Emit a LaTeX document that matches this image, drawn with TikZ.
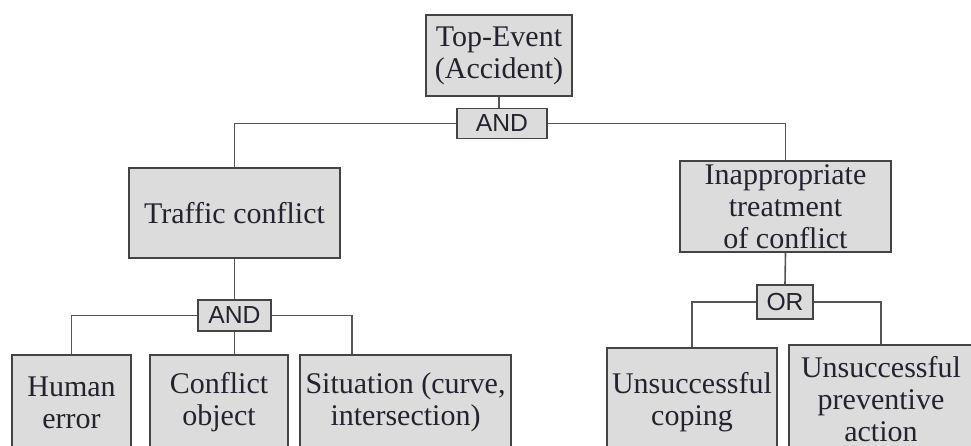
\documentclass[tikz,border=0pt]{standalone}
\usepackage{fontspec}
\setmainfont{Liberation Serif}
\newfontfamily\gatefont{Liberation Sans}
\usetikzlibrary{calc}
\definecolor{boxfill}{HTML}{DCDCDC}
\definecolor{boxline}{HTML}{444444}
\definecolor{conn}{HTML}{555555}
\definecolor{txt}{HTML}{23232F}
\begin{document}
\begin{tikzpicture}[x=0.75pt,y=-0.75pt,
  evbox/.style={draw=boxline,line width=1.4pt,fill=boxfill,text=txt,align=center,
    inner sep=0pt,font=\fontsize{22.5}{24}\selectfont},
  gatebox/.style={draw=boxline,line width=1.4pt,fill=boxfill,text=txt,
    inner sep=0pt,font=\gatefont\fontsize{18.5}{20}\selectfont},
  link/.style={draw=conn,line width=1.2pt}]
\path[use as bounding box] (0,0) rectangle (971,446);
\clip (0,0) rectangle (971,446);
\fill[white] (0,0) rectangle (971,446);
\node[evbox,minimum width={146*0.75pt},minimum height={81*0.75pt}] (top) at (499,55.5) {Top-Event\\(Accident)};
\node[evbox,minimum width={211*0.75pt},minimum height={90*0.75pt}] (tc) at (234.5,213) {Traffic conflict};
\node[evbox,minimum width={211*0.75pt},minimum height={91*0.75pt}] (it) at (785.5,206.5) {Inappropriate\\treatment\\of conflict};
\node[gatebox,minimum width={90*0.75pt},minimum height={30*0.75pt}] (and1) at (502,123.5) {AND};
\node[gatebox,minimum width={73*0.75pt},minimum height={31*0.75pt}] (and2) at (234.5,315.5) {AND};
\node[gatebox,minimum width={56*0.75pt},minimum height={34*0.75pt}] (or) at (785,302) {OR};
\node[evbox,minimum width={119*0.75pt},minimum height={95*0.75pt}] (he) at (71.5,402.5) {Human\\error};
\node[evbox,minimum width={138*0.75pt},minimum height={95*0.75pt}] (co) at (219,402.5) {Conflict\\object};
\node[evbox,minimum width={211*0.75pt},minimum height={95*0.75pt}] (si) at (405.5,402.5) {Situation (curve,\\intersection)};
\node[evbox,minimum width={170*0.75pt},minimum height={108*0.75pt}] (uc) at (692,402) {Unsuccessful\\coping};
\node[evbox,minimum width={184*0.75pt},minimum height={108*0.75pt}] (up) at (881,399) {Unsuccessful\\preventive\\action};
% connectors
\path[link] (top.south) -- (top.south |- and1.north);
\path[link] (and1.west) -| (tc.north);
\path[link] (and1.east) -| (it.north);
\path[link] (tc.south) -- (and2.north);
\path[link] (and2.west) -| (he.north);
\path[link] (and2.south) -- (and2.south |- co.north);
\path[link] (and2.east) -| ($(si.north west)!0.25!(si.north east)$);
\path[link] (it.south) -- (or.north);
\path[link] (or.west) -| (uc.north);
\path[link] (or.east) -| (up.north);
\end{tikzpicture}
\end{document}
